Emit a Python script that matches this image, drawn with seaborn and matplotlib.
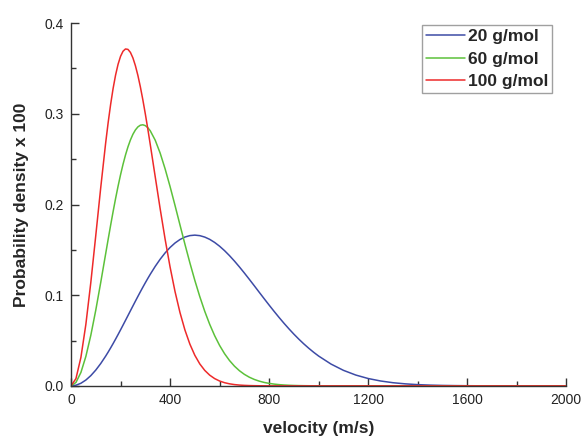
import numpy as np
import pandas as pd
import matplotlib
matplotlib.use("Agg")
import matplotlib.pyplot as plt
from matplotlib.ticker import MultipleLocator
import seaborn as sns

# Maxwell speed distributions at room temperature (probability density x 100)
velocity = [0, 20, 40, 60, 80, 100, 120, 140,
            150, 160, 170, 180, 190, 200, 210, 220, 230, 240, 250, 260, 270, 280,
            290, 300, 310,
            320, 340, 360, 380, 400, 420, 440, 460, 480, 500, 520, 540, 560,
            580, 600, 620, 640, 660, 680, 700, 720, 740, 760, 780, 800, 820, 840,
            860, 880, 900, 920, 940, 960, 980, 1000, 1050, 1100, 1150, 1200, 1250,
            1300, 1350, 1400, 1450, 1500, 1550, 1600, 1650, 1700, 1750, 1800, 1850,
            1900, 1950, 2000]

density_20 = [0.0, 0.00072, 0.00288, 0.00643, 0.01130, 0.01741, 0.02463, 0.03283,
              0.03725, 0.04186, 0.04663, 0.05155, 0.05659, 0.06173, 0.06695, 0.07222,
              0.07752, 0.08284, 0.08813, 0.09340, 0.09860, 0.10373, 0.10876, 0.11366,
              0.11844,
              0.12305, 0.13176, 0.13965, 0.14663, 0.15263, 0.15756, 0.16140, 0.16413,
              0.16572, 0.16624, 0.16567, 0.16410, 0.16159, 0.15819, 0.15401, 0.14913,
              0.14363, 0.13762, 0.13121, 0.12448, 0.11752, 0.11043, 0.10326, 0.09614,
              0.08910, 0.08222, 0.07552, 0.06907, 0.06291, 0.05704, 0.05152, 0.04633,
              0.04151, 0.03701, 0.03288, 0.02404, 0.01714, 0.01193, 0.00811, 0.00539,
              0.00349, 0.00222, 0.00137, 0.00083, 0.00049, 0.00029, 0.00016, 0.00009,
              0.00005, 0.00003, 0.00001, 0.0, 0.0, 0.0, 0.0]

density_60 = [0.0, 0.00375, 0.01478, 0.03246, 0.05579, 0.08347, 0.11401, 0.14576,
              0.16160, 0.17713, 0.19218, 0.20658, 0.22015, 0.23275, 0.24426, 0.25457,
              0.26359, 0.27122, 0.27745, 0.28222, 0.28556, 0.28745, 0.28792, 0.28701,
              0.28478,
              0.28132, 0.27095, 0.25670, 0.23933, 0.21985, 0.19900, 0.17755, 0.15626,
              0.13572, 0.11636, 0.09847, 0.08229, 0.06792, 0.05538, 0.04461, 0.03553,
              0.02796, 0.02175, 0.01673, 0.01272, 0.00956, 0.00711, 0.00523, 0.00380,
              0.00274, 0.00195, 0.00137, 0.00096, 0.00066, 0.00045, 0.00030, 0.00020,
              0.00013, 0.00009, 0.00006, 0.00002, 0.00001, 0.0, 0.0, 0.0, 0.0, 0.0,
              0.0, 0.0, 0.0, 0.0, 0.0, 0.0, 0.0, 0.0, 0.0, 0.0, 0.0, 0.0, 0.0]

density_100 = [0.0, 0.00804, 0.03139, 0.06784, 0.11403, 0.16576, 0.21855, 0.26802,
               0.29031, 0.31039, 0.32798, 0.34277, 0.35461, 0.36337, 0.36902, 0.37155,
               0.37107, 0.36771, 0.36166, 0.35313, 0.34247, 0.32985, 0.31561, 0.30007,
               0.28356,
               0.26626, 0.23071, 0.19534, 0.16181, 0.13116, 0.10408, 0.08092, 0.06165,
               0.04605, 0.03372, 0.02423, 0.01709, 0.01183, 0.00803, 0.00536, 0.00350,
               0.00226, 0.00142, 0.00088, 0.00054, 0.00032, 0.00019, 0.00011, 0.00006,
               0.00003, 0.00002, 0.00001, 0.0, 0.0, 0.0, 0.0, 0.0, 0.0, 0.0, 0.0, 0.0,
               0.0, 0.0, 0.0, 0.0, 0.0, 0.0, 0.0, 0.0, 0.0, 0.0, 0.0, 0.0, 0.0, 0.0,
               0.0, 0.0, 0.0, 0.0, 0.0]

series_labels = ["20 g/mol", "60 g/mol", "100 g/mol"]
series_colors = ["#3d4ba6", "#5cc13a", "#ee2a2a"]

df = pd.DataFrame({
    "velocity": velocity * 3,
    "density": density_20 + density_60 + density_100,
    "molar mass": np.repeat(series_labels, len(velocity)),
})

sns.set_style("ticks")
plt.rcParams["font.family"] = ["Liberation Sans", "DejaVu Sans"]

fig = plt.figure(figsize=(5.82, 4.37), dpi=100)
ax = fig.add_axes([0.122, 0.117, 0.851, 0.830])

sns.lineplot(data=df, x="velocity", y="density", hue="molar mass",
             hue_order=series_labels, palette=series_colors, linewidth=1.1,
             ax=ax, legend=True)

ax.set_xlim(0, 2000)
ax.set_ylim(0, 0.4)
ax.xaxis.set_major_locator(MultipleLocator(400))
ax.xaxis.set_minor_locator(MultipleLocator(200))
ax.yaxis.set_major_locator(MultipleLocator(0.1))
ax.yaxis.set_minor_locator(MultipleLocator(0.05))
ax.yaxis.set_major_formatter(plt.FormatStrFormatter("%.1f"))

for side in ["top", "right"]:
    ax.spines[side].set_visible(False)
for side in ["left", "bottom"]:
    ax.spines[side].set_color("#333333")
    ax.spines[side].set_linewidth(1.0)

ax.tick_params(which="major", direction="in", length=6, width=1.0,
               color="#333333", labelsize=10, labelcolor="#222222", pad=5)
ax.tick_params(which="minor", direction="in", length=3.5, width=1.0,
               color="#333333")

ax.set_xlabel("velocity (m/s)", fontsize=12.5, fontweight="bold", labelpad=10)
ax.set_ylabel("Probability density x 100", fontsize=12.5, fontweight="bold",
              labelpad=11)

leg = ax.legend(loc="upper right", bbox_to_anchor=(0.972, 0.994),
                frameon=True, fancybox=False, edgecolor="#888888",
                prop={"weight": "bold", "size": 12.5}, handlelength=2.25,
                handletextpad=0.2, labelspacing=0.42, borderpad=0.22,
                borderaxespad=0.0)
leg.get_frame().set_linewidth(1.0)
for line in leg.get_lines():
    line.set_linewidth(1.1)

fig.savefig("out.png", dpi=100)
